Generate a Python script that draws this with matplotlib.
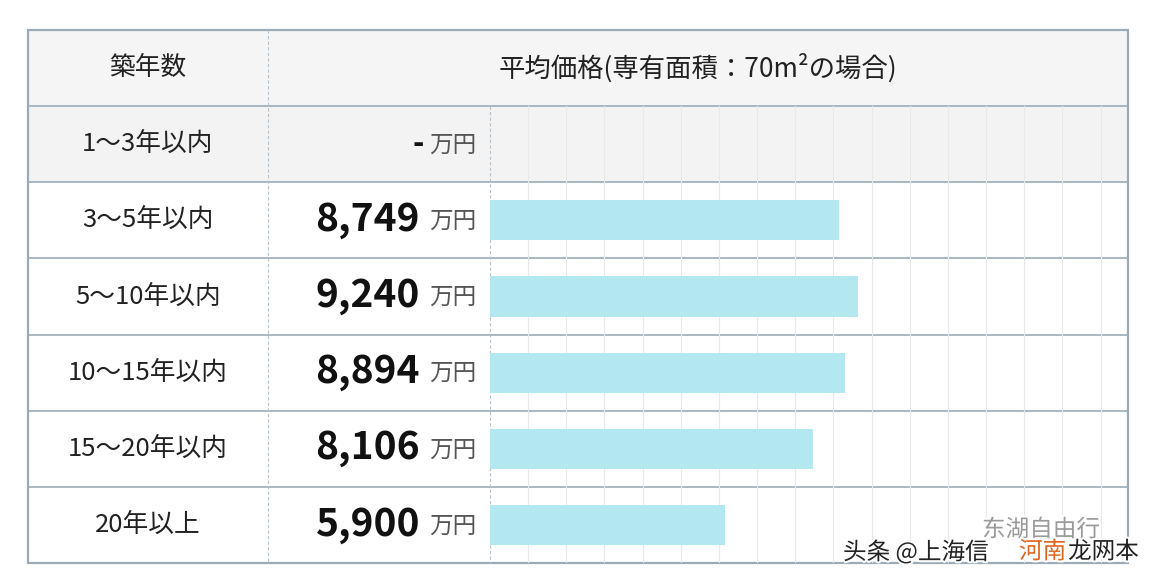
import numpy as np
import matplotlib.pyplot as plt
from matplotlib.patches import Rectangle
import matplotlib.patheffects as pe

plt.rcParams['font.family'] = ['Noto Sans CJK JP', 'DejaVu Sans']

# データ
header_left = '築年数'
header_right = '平均価格(専有面積：70m²の場合)'
ages = ['1～3年以内', '3～5年以内', '5～10年以内', '10～15年以内', '15～20年以内', '20年以上']
prices = [None, 8749, 9240, 8894, 8106, 5900]
unit = '万円'

W, H = 1156, 586
fig = plt.figure(figsize=(W / 100, H / 100), dpi=100)
ax = fig.add_axes([0, 0, 1, 1])
ax.set_xlim(0, W)
ax.set_ylim(H, 0)
ax.axis('off')

# 表の枠 (ピクセル)
left, right = 28, 1128
col1, col2 = 268, 490
top, head_b = 30, 106
row_h = 76.2
bottom = head_b + row_h * len(ages)
border = '#9caab6'

ax.add_patch(Rectangle((left, top), right - left, head_b - top, fc='#f5f5f6', ec='none'))
ax.add_patch(Rectangle((left, head_b), right - left, row_h, fc='#f3f3f4', ec='none'))

ax.text((left + col1) / 2, (top + head_b) / 2, header_left, ha='center', va='center', fontsize=18.5, color='#222')
ax.text((col1 + right) / 2, (top + head_b) / 2, header_right, ha='center', va='center', fontsize=19, color='#222')

for i, (a, p) in enumerate(zip(ages, prices)):
    yc = head_b + row_h * (i + 0.5)
    ax.text((left + col1) / 2, yc, a, ha='center', va='center', fontsize=18.5, color='#222')
    ax.text(476, yc + 1, unit, ha='right', va='center', fontsize=17, color='#555')
    if p is None:
        ax.text(424, yc, '-', ha='right', va='center', fontsize=22, fontweight='bold', color='#111')
    else:
        ax.text(420, yc - 1, f'{p:,}', ha='right', va='center', fontsize=28, fontweight='bold', color='#111')

# 罫線
for k in range(len(ages)):
    y = head_b + row_h * k
    ax.plot([left, right], [y, y], color=border, lw=1.2)
ax.plot([col1, col1], [top, bottom], color='#b8c2ca', lw=0.8, ls=(0, (3, 2)))
ax.plot([col2, col2], [head_b, bottom], color='#b8c2ca', lw=0.8, ls=(0, (3, 2)))
ax.add_patch(Rectangle((left, top), right - left, bottom - top, fc='none', ec=border, lw=1.6))

# 棒グラフ
bx = fig.add_axes([col2 / W, (H - bottom) / H, (right - col2) / W, (bottom - head_b) / H])
bx.patch.set_alpha(0)
ypos = np.arange(len(ages))
vals = [0 if p is None else p for p in prices]
bx.barh(ypos, vals, height=0.53, color='#b3e8f0', zorder=2)
bx.set_xlim(0, 16000)
bx.set_ylim(len(ages) - 0.5, -0.5)
bx.set_xticks(np.arange(957, 16000, 957))
bx.grid(axis='x', color='#e6e9eb', lw=0.8, zorder=0)
bx.tick_params(length=0, labelbottom=False, labelleft=False)
for s in bx.spines.values():
    s.set_visible(False)

# 透かし
wm = [pe.withStroke(linewidth=3, foreground='white')]
fig.text(982 / W, 1 - 530 / H, '东湖自由行', fontsize=17, color='#9a9a9a', ha='left', va='center', path_effects=wm)
fig.text(843 / W, 1 - 552 / H, '头条 @上海信', fontsize=17, color='#222', ha='left', va='center', path_effects=wm)
fig.text(1019 / W, 1 - 552 / H, '河南', fontsize=17, color='#e0651e', ha='left', va='center', path_effects=wm)
fig.text(1068 / W, 1 - 552 / H, '龙网本', fontsize=17, color='#222', ha='left', va='center', path_effects=wm)

fig.savefig('out.png', dpi=100)
